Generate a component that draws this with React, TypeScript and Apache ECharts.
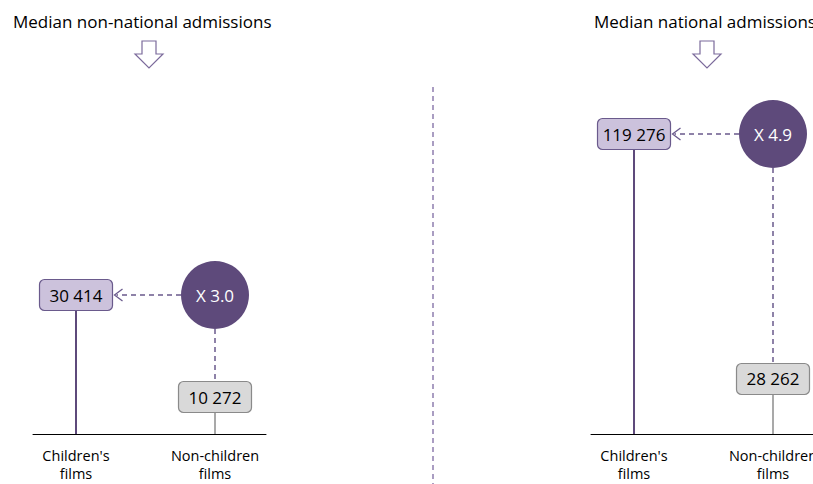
import React, { useEffect, useRef } from "react";
import * as echarts from "echarts";

// ---- data ----
const panelTitles = ["Median non-national admissions", "Median national admissions"];
const categories = ["Children's\nfilms", "Non-children\nfilms"];
const childrenValues = [30414, 119276];
const nonChildrenValues = [10272, 28262];
const ratioLabels = ["X 3.0", "X 4.9"];

// ---- layout ----
const gridLefts = [33, 591];
const gridTop = 60;
const gridHeight = 374;
const gridWidth = 233;
const xRange = [-0.3094, 1.3669];
const yRanges = [
  [2966, 76819],
  [7830, 146766],
];
const titleLefts = [8, 589];
const arrowCenters = [149, 707];

const FONT = "'Open Sans', 'Noto Sans', sans-serif";
const PURPLE = "#5E4A7B";
const PURPLE_LINE = "#6A5A8C";
const BOX_W = 73;
const BOX_H = 31;
const R = 34;

const fmt = (v: number) => String(v).replace(/\B(?=(\d{3})+(?!\d))/g, " ");

export default function App() {
  const ref = useRef<HTMLDivElement>(null);
  useEffect(() => {
    document.body.style.margin = "0";
    const chart = echarts.init(ref.current!, null, { renderer: "svg" });

    const grids: any[] = [];
    const xAxes: any[] = [];
    const yAxes: any[] = [];
    const series: any[] = [];
    const titles: any[] = [];
    const graphics: any[] = [];

    panelTitles.forEach((t, i) => {
      grids.push({
        left: gridLefts[i],
        top: gridTop,
        width: gridWidth,
        height: gridHeight,
        outerBoundsMode: "none",
        containLabel: false,
      });
      xAxes.push({
        type: "value",
        gridIndex: i,
        min: xRange[0],
        max: xRange[1],
        axisLine: { show: true, onZero: false, lineStyle: { color: "#000", width: 1 } },
        axisTick: { show: false },
        splitLine: { show: false },
        axisLabel: {
          customValues: [0, 1],
          formatter: (v: number) => categories[Math.round(v)],
          fontFamily: FONT,
          fontSize: 14.5,
          lineHeight: 18,
          color: "#000",
          margin: 12,
        },
      });
      yAxes.push({
        type: "value",
        gridIndex: i,
        min: yRanges[i][0],
        max: yRanges[i][1],
        show: false,
        splitLine: { show: false },
      });
      const yMin = yRanges[i][0];

      // stems + value boxes
      series.push({
        type: "custom",
        xAxisIndex: i,
        yAxisIndex: i,
        z: 3,
        data: [
          [0, childrenValues[i]],
          [1, nonChildrenValues[i]],
        ],
        renderItem: (params: any, api: any) => {
          const cat = api.value(0);
          const val = api.value(1);
          const p = api.coord([cat, val]);
          const base = api.coord([cat, yMin]);
          const isChild = cat === 0;
          return {
            type: "group",
            children: [
              {
                type: "line",
                shape: { x1: p[0], y1: base[1], x2: p[0], y2: p[1] + BOX_H / 2 },
                style: { stroke: isChild ? PURPLE : "#8C8C8C", lineWidth: isChild ? 2 : 1.5 },
              },
              {
                type: "rect",
                shape: { x: p[0] - BOX_W / 2, y: p[1] - BOX_H / 2, width: BOX_W, height: BOX_H, r: 5 },
                style: {
                  fill: isChild ? "#CCC2DC" : "#D9D9D9",
                  stroke: isChild ? PURPLE_LINE : "#8A8A8A",
                  lineWidth: 1.2,
                },
              },
              {
                type: "text",
                x: p[0],
                y: p[1],
                style: {
                  text: fmt(val),
                  fill: "#000",
                  fontFamily: FONT,
                  fontSize: 17,
                  align: "center",
                  verticalAlign: "middle",
                },
              },
            ],
          };
        },
      });

      // ratio circle + dashed connectors
      series.push({
        type: "custom",
        xAxisIndex: i,
        yAxisIndex: i,
        z: 2,
        data: [[1, childrenValues[i], nonChildrenValues[i]]],
        renderItem: (params: any, api: any) => {
          const c = api.coord([api.value(0), api.value(1)]);
          const childP = api.coord([0, api.value(1)]);
          const nonP = api.coord([api.value(0), api.value(2)]);
          const tipX = childP[0] + BOX_W / 2 + 2;
          const dash = { stroke: PURPLE_LINE, lineWidth: 1.5, lineDash: [5, 4] };
          return {
            type: "group",
            children: [
              {
                type: "line",
                shape: { x1: c[0] - R, y1: c[1], x2: tipX + 2, y2: c[1] },
                style: dash,
              },
              {
                type: "polyline",
                shape: { points: [[tipX + 8, c[1] - 6], [tipX, c[1]], [tipX + 8, c[1] + 6]] },
                style: { stroke: PURPLE_LINE, lineWidth: 1.3, fill: "none" },
              },
              {
                type: "line",
                shape: { x1: c[0], y1: c[1] + R, x2: c[0], y2: nonP[1] - BOX_H / 2 },
                style: dash,
              },
              {
                type: "circle",
                shape: { cx: c[0], cy: c[1], r: R },
                style: { fill: PURPLE },
              },
              {
                type: "text",
                x: c[0],
                y: c[1],
                style: {
                  text: ratioLabels[i],
                  fill: "#fff",
                  fontFamily: FONT,
                  fontSize: 17,
                  align: "center",
                  verticalAlign: "middle",
                },
              },
            ],
          };
        },
      });

      titles.push({
        text: t,
        left: titleLefts[i],
        top: 8,
        textStyle: { fontFamily: FONT, fontSize: 17, fontWeight: "normal", color: "#000" },
      });

      const ax = arrowCenters[i];
      graphics.push({
        type: "polygon",
        shape: {
          points: [
            [ax - 7, 41],
            [ax + 7, 41],
            [ax + 7, 54],
            [ax + 14, 54],
            [ax, 68],
            [ax - 14, 54],
            [ax - 7, 54],
          ],
        },
        style: { fill: "#fff", stroke: "#7B6A9B", lineWidth: 1.2 },
      });
    });

    graphics.push({
      type: "line",
      shape: { x1: 433, y1: 87, x2: 433, y2: 484 },
      style: { stroke: "#8E7DAE", lineWidth: 1.5, lineDash: [5, 4] },
    });

    chart.setOption({
      animation: false,
      backgroundColor: "#fff",
      title: titles,
      grid: grids,
      xAxis: xAxes,
      yAxis: yAxes,
      series,
      graphic: graphics,
    });
    return () => chart.dispose();
  }, []);
  return <div ref={ref} style={{ width: 813, height: 484 }} />;
}
